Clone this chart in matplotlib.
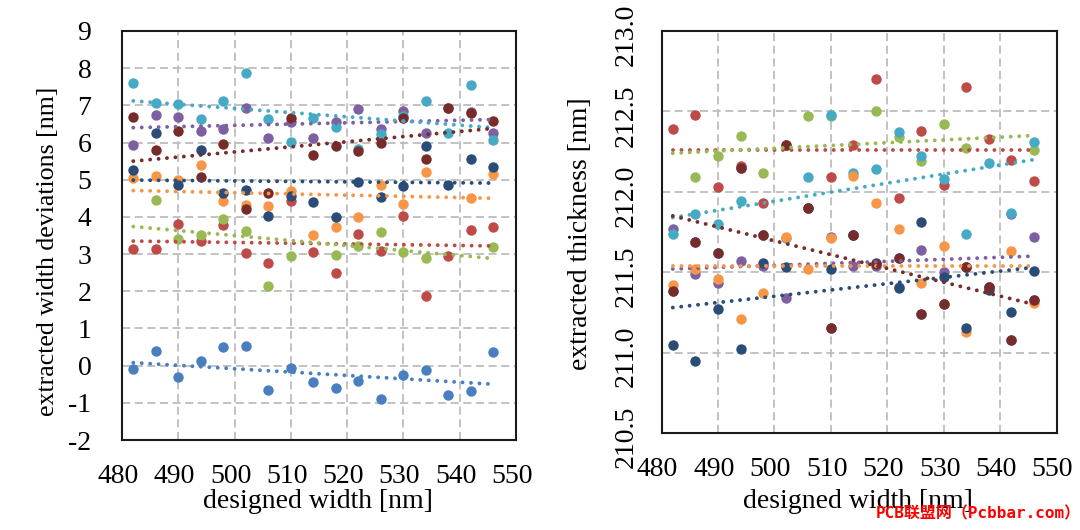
import numpy as np
import matplotlib
matplotlib.use("Agg")
import matplotlib.pyplot as plt
from matplotlib.transforms import ScaledTranslation

plt.rcParams["font.family"] = ["Liberation Serif"]
plt.rcParams["axes.unicode_minus"] = False

nan = np.nan
widths = [482, 486, 490, 494, 498, 502, 506, 510, 514, 518, 522, 526, 530, 534, 538, 542, 546]
trend_x = [482, 546]

series_names = ["blue", "red", "green", "purple", "teal", "orange", "navy", "maroon"]
colors = {
    "blue": "#4A7FBF",
    "red": "#BE4B48",
    "green": "#98B954",
    "purple": "#7E60A2",
    "teal": "#46AAC5",
    "orange": "#F79646",
    "navy": "#2A4D77",
    "maroon": "#772C2A",
}

# left panel: width deviations
dev_blue = [-0.08, 0.39, -0.31, 0.13, 0.50, 0.52, -0.65, -0.07, -0.44, -0.61, -0.42, -0.91, -0.25, -0.12, -0.78, -0.68, 0.36]
dev_red = [3.14, 3.13, 3.80, 3.36, 3.78, 3.03, 2.75, 4.43, 3.06, 2.50, 3.53, 3.09, 4.03, 1.88, 2.95, 3.65, 3.74]
dev_green = [nan, 4.46, 3.41, 3.52, 3.95, 3.62, 2.15, 2.95, nan, 2.97, 3.23, 3.59, 3.06, 2.90, nan, nan, 3.19]
dev_purple = [5.93, 6.75, 6.70, 6.31, 6.37, 6.93, 6.11, 6.56, 6.12, 6.54, 6.90, 6.36, 6.85, 6.26, 6.94, 6.83, 6.26]
dev_teal = [7.59, 7.07, 7.04, 6.63, 7.13, 7.88, 6.62, 6.01, 6.66, 6.43, 5.83, 6.23, 6.72, 7.13, 6.25, 7.55, 6.07]
dev_orange = [5.04, 5.09, 5.00, 5.40, 4.44, 4.31, 4.30, 4.71, 3.52, 3.73, 4.00, 4.85, 4.35, 5.22, nan, 4.52, 5.15]
dev_navy = [5.27, 6.25, 4.86, 5.79, 4.63, 4.72, 4.03, 4.55, 4.41, 4.00, 4.94, 4.54, 4.84, 5.90, 4.85, 5.56, 5.34]
dev_maroon = [6.70, 5.80, 6.30, 5.07, 5.95, 4.20, 4.63, 6.65, 5.67, 5.92, 5.77, 6.00, 6.67, 5.56, 6.94, 6.80, 6.59]
dev_values = [dev_blue, dev_red, dev_green, dev_purple, dev_teal, dev_orange, dev_navy, dev_maroon]
dev_trends = [(0.08, -0.50), (3.35, 3.22), (3.74, 2.88), (6.40, 6.62),
              (7.12, 6.40), (4.71, 4.50), (4.99, 4.91), (5.50, 6.38)]

# right panel: thickness
th_blue = [211.38, 211.69, 211.62, 212.15, 211.73, nan, nan, 211.15, 211.73, nan, 211.59, 211.24, 211.30, 211.53, 211.41, 211.08, 211.33]
th_red = [212.39, 212.48, 212.03, 212.16, 211.93, 212.29, nan, 212.09, 212.29, 212.70, 211.96, 212.38, 212.04, 212.65, 212.33, 212.20, 212.07]
th_green = [nan, 212.09, 212.22, 212.35, 212.12, 212.29, 212.47, 212.47, nan, 212.50, 212.34, 212.19, 212.42, 212.27, nan, nan, 212.26]
th_purple = [211.77, 211.49, 211.43, 211.57, 211.54, 211.34, nan, 211.72, 211.54, 211.54, 211.41, 211.64, 211.50, 211.53, 211.41, 211.86, 211.72]
th_teal = [211.74, 211.86, 211.80, 211.94, 211.73, 211.71, 212.09, 212.48, 212.12, 212.14, 212.37, 212.22, 212.08, 211.74, 212.18, 211.87, 212.31]
th_orange = [211.42, 211.52, 211.46, 211.21, 211.37, 211.72, 211.52, 211.71, 212.10, 211.93, 211.77, 211.43, 211.66, 211.13, nan, 211.63, 211.31]
th_navy = [211.05, 210.95, 211.27, 211.02, 211.56, 211.53, 211.90, 211.52, 211.73, 211.56, 211.40, 211.81, 211.47, 211.15, 211.39, 211.25, 211.51]
th_maroon = [211.38, 211.69, 211.62, 212.15, 211.73, 212.29, 211.90, 211.15, 211.73, 211.55, 211.59, 211.24, 211.30, 211.53, 211.41, 211.08, 211.33]
th_values = [th_blue, th_red, th_green, th_purple, th_teal, th_orange, th_navy, th_maroon]
th_trends = [None, (212.26, 212.26), (212.24, 212.35), (211.52, 211.60),
             (211.84, 212.20), (211.54, 211.54), (211.28, 211.53), (211.85, 211.30)]
th_ticks = [210.5, 211.0, 211.5, 212.0, 212.5, 213.0]
th_labels = ["210.5", "211.0", "211.5", "212.0", "212.5", "213.0"]

W, H = 1080, 530
fig = plt.figure(figsize=(W / 100, H / 100), dpi=100)


def px_axes(x0, x1, y0, y1):
    return fig.add_axes([x0 / W, 1 - y1 / H, (x1 - x0) / W, (y1 - y0) / H])


def shift(dx, dy):
    # pixel offset for tick labels
    return ScaledTranslation(dx / 100, dy / 100, fig.dpi_scale_trans)


def draw_panel(ax, values, trends):
    for name, ys, tr in zip(series_names, values, trends):
        ax.plot(widths, ys, "o", color=colors[name], ms=7.5, mec="none", zorder=3, clip_on=False)
        if tr is not None:
            ax.plot(trend_x, tr, color=colors[name], lw=2.8, ls=(0, (0.01, 2.165)),
                    dash_capstyle="round", zorder=4)
    ax.set_xlim(480, 550)
    ax.set_xticks(range(480, 551, 10))
    ax.grid(True, color="#BDBDBD", lw=1.3, ls=(0, (4.5, 2.5)))
    ax.set_axisbelow(True)
    ax.tick_params(length=0, labelsize=20)
    ax.tick_params(axis="x", pad=17)
    for s in ax.spines.values():
        s.set_linewidth(1.5)
        s.set_color("#1A1A1A")
    for lab in ax.get_xticklabels():
        lab.set_transform(lab.get_transform() + shift(-4, 0))


ax1 = px_axes(122, 516, 31, 440)
draw_panel(ax1, dev_values, dev_trends)
ax1.set_ylim(-2, 9)
ax1.set_yticks(range(-2, 10))
ax1.tick_params(axis="y", pad=22)
ax1.set_xlabel("designed width [nm]", fontsize=20, va="baseline")
ax1.xaxis.set_label_coords(318 / W, 1 - 508 / H, transform=fig.transFigure)
ax1.set_ylabel("extracted width deviations [nm]", fontsize=18.6, va="center")
ax1.yaxis.set_label_coords(48 / W, 1 - 251 / H, transform=fig.transFigure)

ax2 = px_axes(661.5, 1056.5, 31, 433)
draw_panel(ax2, th_values, th_trends)
ax2.set_ylim(210.5, 213)
ax2.set_yticks(th_ticks)
ax2.set_yticklabels(th_labels, rotation=90, va="center")
ax2.tick_params(axis="y", pad=16.5)
for lab in ax2.get_yticklabels():
    lab.set_transform(lab.get_transform() + shift(0, -4))
ax2.set_xlabel("designed width [nm]", fontsize=20, va="baseline")
ax2.xaxis.set_label_coords(858 / W, 1 - 508 / H, transform=fig.transFigure)
ax2.set_ylabel("extracted thickness [nm]", fontsize=20, va="center")
ax2.yaxis.set_label_coords(580 / W, 1 - 234 / H, transform=fig.transFigure)

fig.text(978 / W, 1 - 514 / H, "PCB联盟网（Pcbbar.com）", color="#FF0000", fontsize=11.5,
         fontweight="bold", family=["DejaVu Sans Mono", "Noto Sans CJK SC"], ha="center", va="center")

fig.savefig("out.png", dpi=100)
